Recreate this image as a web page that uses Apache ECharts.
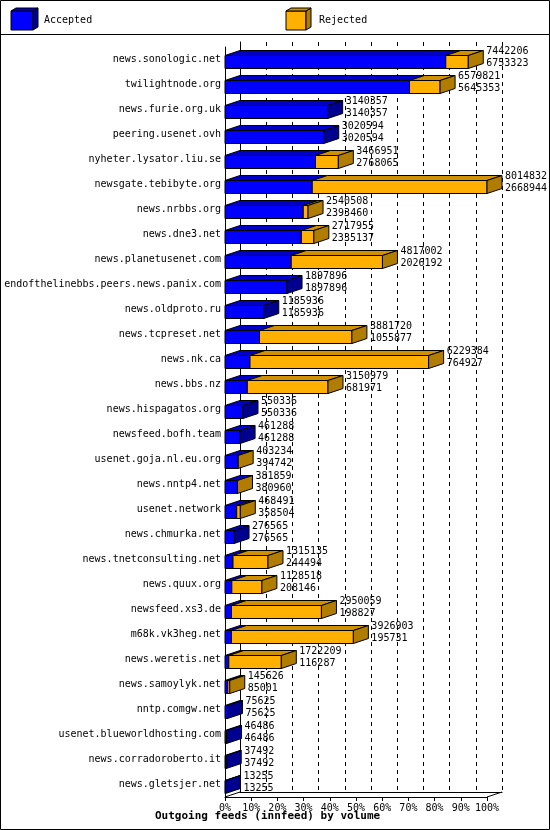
<!DOCTYPE html>
<html><head><meta charset="utf-8">
<script src="https://cdn.jsdelivr.net/npm/echarts@6/dist/echarts.min.js"></script>
<style>body{margin:0;background:#fff}#c{width:550px;height:830px}</style>
</head><body><div id="c"></div>
<script>
var hosts = ['news.sonologic.net','twilightnode.org','news.furie.org.uk','peering.usenet.ovh','nyheter.lysator.liu.se','newsgate.tebibyte.org','news.nrbbs.org','news.dne3.net','news.planetusenet.com','endofthelinebbs.peers.news.panix.com','news.oldproto.ru','news.tcpreset.net','news.nk.ca','news.bbs.nz','news.hispagatos.org','newsfeed.bofh.team','usenet.goja.nl.eu.org','news.nntp4.net','usenet.network','news.chmurka.net','news.tnetconsulting.net','news.quux.org','newsfeed.xs3.de','m68k.vk3heg.net','news.weretis.net','news.samoylyk.net','nntp.comgw.net','usenet.blueworldhosting.com','news.corradoroberto.it','news.gletsjer.net'];
var totals = [7442206,6579821,3140357,3020594,3466951,8014832,2540508,2717955,4817002,1897896,1185936,3881720,6229384,3150979,550336,461288,403234,381859,468491,276565,1315135,1128518,2950059,3926903,1722209,145626,75625,46486,37492,13255];
var accepted = [6753323,5645353,3140357,3020594,2768065,2668944,2393460,2335137,2026192,1897896,1185936,1055877,764927,681971,550336,461288,394742,380960,358504,276565,244494,208146,198827,195731,116287,85001,75625,46486,37492,13255];
var ticks = [0,10,20,30,40,50,60,70,80,90,100];

var maxTot = Math.max.apply(null, totals);
var DX = 15, DY = 5, H = 13;
var BLUE = ['#0000ff','#0000c8','#000090'], ORANGE = ['#ffb000','#d09000','#b07d00'];
var data = hosts.map(function (h, i) {
  return [i, accepted[i] / maxTot * 100, totals[i] / maxTot * 100, accepted[i], totals[i]];
});

function box(x0, x1, y, col, side) {
  var out = [
    {type:'rect', shape:{x:x0, y:y, width:x1 - x0, height:H}, style:{fill:col[0], stroke:'#000', lineWidth:1}},
    {type:'polygon', shape:{points:[[x0,y],[x0+DX,y-DY],[x1+DX,y-DY],[x1,y]]}, style:{fill:col[1], stroke:'#000', lineWidth:1}}
  ];
  if (side) out.push({type:'polygon', shape:{points:[[x1,y],[x1+DX,y-DY],[x1+DX,y+H-DY],[x1,y+H]]}, style:{fill:col[2], stroke:'#000', lineWidth:1}});
  return out;
}

function renderItem(params, api) {
  var c0 = api.coord([0, api.value(0)]);
  var xa = api.coord([api.value(1), api.value(0)])[0];
  var xt = api.coord([api.value(2), api.value(0)])[0];
  var x0 = c0[0], y = c0[1] - 4;
  var rej = api.value(4) > api.value(3);
  var ch = box(x0, xa, y, BLUE, !rej);
  if (rej) ch = ch.concat(box(xa, xt, y, ORANGE, true));
  ch.push({type:'text', style:{x:xt + DX + 3, y:c0[1] - 2, text:api.value(4) + '\n' + api.value(3),
    font:'10px "DejaVu Sans Mono", monospace', fill:'#000', verticalAlign:'middle', lineHeight:12}});
  return {type:'group', children:ch};
}

var chart = echarts.init(document.getElementById('c'));
var mono = '"DejaVu Sans Mono", monospace';
chart.setOption({
  animation: false,
  grid: [
    {left:225, right:63, top:47, bottom:33, containLabel:false, outerBoundsMode:'none'},
    {left:225 + DX, right:63 - DX, top:42, bottom:33 + DY, containLabel:false, outerBoundsMode:'none'}
  ],
  xAxis: [
    {gridIndex:0, type:'value', min:0, max:100, interval:10, data:ticks,
      axisLabel:{formatter:'{value}%', color:'#000', fontFamily:mono, fontSize:10, margin:6},
      axisLine:{show:true, lineStyle:{color:'#000'}}, axisTick:{show:true, length:4, lineStyle:{color:'#000'}},
      splitLine:{show:false}},
    {gridIndex:1, type:'value', min:0, max:100, interval:10,
      axisLabel:{show:false}, axisTick:{show:false}, axisLine:{show:true, lineStyle:{color:'#000'}},
      splitLine:{show:true, lineStyle:{color:'#000', type:[4,4]}}}
  ],
  yAxis: [
    {gridIndex:0, type:'category', data:hosts, inverse:true,
      axisLabel:{color:'#000', fontFamily:mono, fontSize:10, margin:4},
      axisLine:{show:true, lineStyle:{color:'#000'}}, axisTick:{show:false}},
    {gridIndex:1, type:'category', data:hosts, inverse:true, axisLabel:{show:false},
      axisLine:{show:true, lineStyle:{color:'#000'}}, axisTick:{show:false}}
  ],
  series: [{type:'custom', xAxisIndex:0, yAxisIndex:0, renderItem:renderItem, data:data, z:5, clip:false}],
  graphic: [
    {type:'rect', shape:{x:0.5, y:0.5, width:549, height:829}, style:{fill:null, stroke:'#000', lineWidth:1}},
    {type:'line', shape:{x1:0, y1:34.5, x2:550, y2:34.5}, style:{stroke:'#000', lineWidth:1}},
    {type:'line', shape:{x1:225, y1:797, x2:240, y2:792}, style:{stroke:'#000'}},
    {type:'line', shape:{x1:487, y1:797, x2:502, y2:792}, style:{stroke:'#000'}},
    {type:'rect', shape:{x:11, y:11, width:22, height:19}, style:{fill:'#0000ff', stroke:'#000'}},
    {type:'polygon', shape:{points:[[33,11],[38,8],[38,27],[33,30]]}, style:{fill:'#000090', stroke:'#000'}},
    {type:'polygon', shape:{points:[[11,11],[16,8],[38,8],[33,11]]}, style:{fill:'#0000c8', stroke:'#000'}},
    {type:'text', style:{x:44, y:20, text:'Accepted', font:'10px ' + mono, fill:'#000', verticalAlign:'middle'}},
    {type:'rect', shape:{x:286, y:11, width:20, height:19}, style:{fill:'#ffb000', stroke:'#000'}},
    {type:'polygon', shape:{points:[[306,11],[311,8],[311,27],[306,30]]}, style:{fill:'#b07d00', stroke:'#000'}},
    {type:'polygon', shape:{points:[[286,11],[291,8],[311,8],[306,11]]}, style:{fill:'#d09000', stroke:'#000'}},
    {type:'text', style:{x:319, y:20, text:'Rejected', font:'10px ' + mono, fill:'#000', verticalAlign:'middle'}},
    {type:'text', style:{x:155, y:816, text:'Outgoing feeds (innfeed) by volume', font:'bold 11px ' + mono, fill:'#000', verticalAlign:'middle'}}
  ]
});
</script></body></html>
